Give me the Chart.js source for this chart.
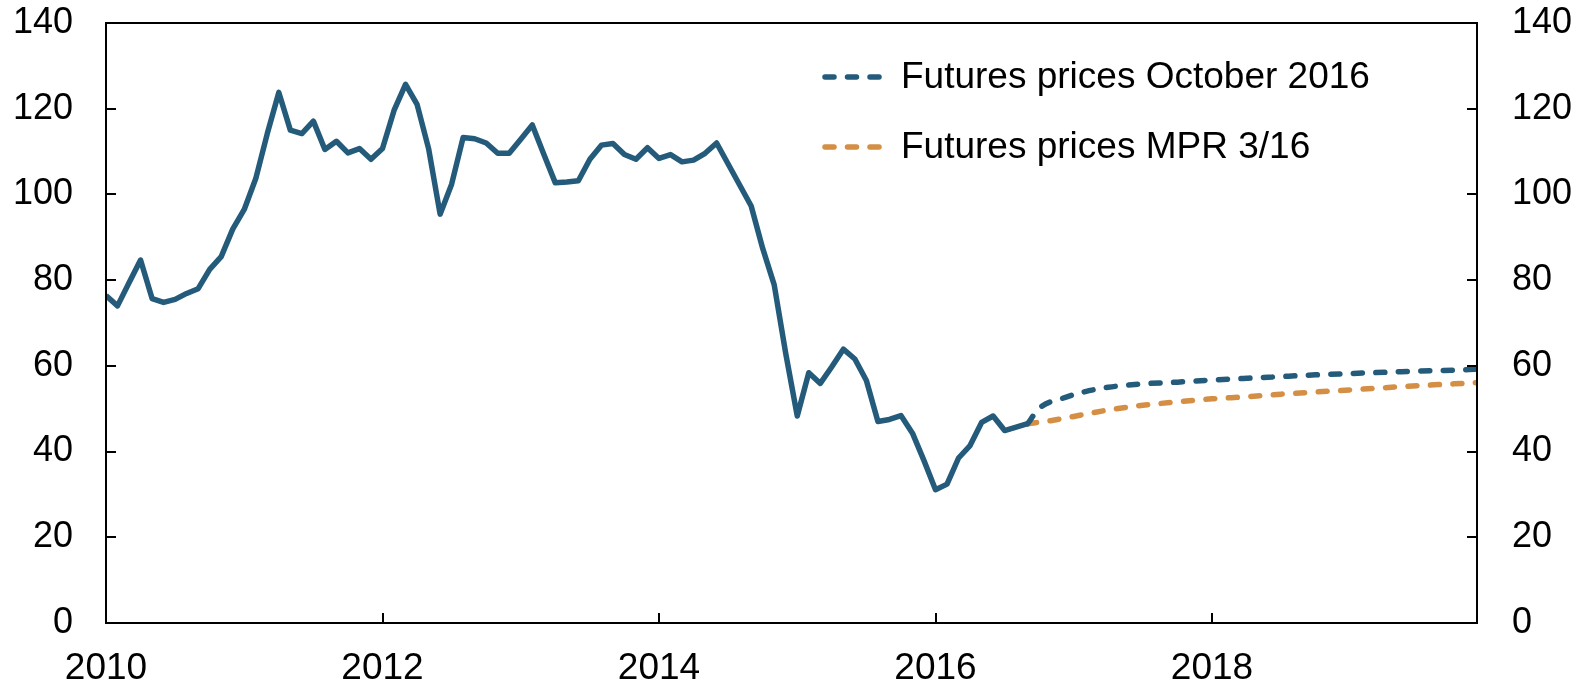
<!DOCTYPE html>
<html>
<head>
<meta charset="utf-8">
<script src="https://cdn.jsdelivr.net/npm/chart.js@4/dist/chart.umd.min.js"></script>
<style>
  html, body { margin: 0; padding: 0; background: #fff; }
  #wrap { width: 1582px; height: 685px; position: relative; }
</style>
</head>
<body>
<div id="wrap"><canvas id="oilChart"></canvas></div>
<script>
// Brent oil price, USD per barrel, monthly from Jan 2010 (month 0) to Sep 2016
const spotPrices = [
  76.4, 74.0, 79.4, 84.7, 75.7, 74.8, 75.5, 76.9, 78.0, 82.5, 85.5, 91.9,
  96.5, 103.7, 114.2, 123.8, 115.0, 114.2, 117.1, 110.5, 112.4, 109.7, 110.7, 108.2,
  110.7, 119.6, 125.7, 121.0, 110.7, 95.4, 102.4, 113.3, 113.0, 112.0, 109.6, 109.6,
  112.9, 116.2, 109.4, 102.7, 102.9, 103.2, 108.2, 111.5, 111.9, 109.3, 108.2, 110.9,
  108.4, 109.3, 107.6, 108.0, 109.6, 112.0, 107.1, 102.2, 97.3, 87.4, 78.9, 62.9,
  48.3, 58.4, 55.9, 59.8, 63.9, 61.6, 56.6, 47.0, 47.5, 48.4, 44.3, 37.9,
  31.1, 32.4, 38.5, 41.4, 46.8, 48.3, 44.9, 45.7, 46.5
];

// futures curves (month index counted from Jan 2010)
const octMonths = [80, 81, 83, 85, 87, 90, 93, 96, 99, 102, 105, 108, 111, 114, 117, 119];
const octValues = [46.5, 50.1, 52.4, 54.0, 55.0, 55.8, 56.2, 56.7, 57.1, 57.5, 57.9, 58.2, 58.5, 58.8, 59.0, 59.2];
const mprMonths = [80, 82, 84, 87, 90, 93, 96, 99, 102, 105, 108, 111, 114, 117, 119];
const mprValues = [46.5, 47.2, 48.2, 49.7, 50.8, 51.6, 52.3, 52.8, 53.4, 53.9, 54.4, 54.9, 55.4, 55.8, 56.1];

const yearTicks = [0, 24, 48, 72, 96];
const yearLabels = ['2010', '2012', '2014', '2016', '2018'];

const blue = '#245b7b';
const orange = '#d48f45';
const fontFamily = '"Liberation Sans", Arial, sans-serif';
const lineW = 5.5;
const dash = [9, 13.5];

const toPoints = (xs, ys) => ys.map((v, i) => ({ x: xs[i], y: v }));

// ticks pointing into the plot, box round the chart area, legend in the corner
const framePlugin = {
  id: 'frame',
  afterDraw(chart) {
    const ctx = chart.ctx;
    const a = chart.chartArea;
    const y = chart.scales.y;
    const x = chart.scales.x;
    ctx.save();
    ctx.strokeStyle = '#000';
    ctx.lineWidth = 2;
    ctx.beginPath();
    y.ticks.forEach(t => {
      const py = Math.round(y.getPixelForValue(t.value));
      ctx.moveTo(a.left, py); ctx.lineTo(a.left + 10, py);
      ctx.moveTo(a.right, py); ctx.lineTo(a.right - 10, py);
    });
    yearTicks.forEach(m => {
      const px = Math.round(x.getPixelForValue(m));
      ctx.moveTo(px, a.bottom); ctx.lineTo(px, a.bottom - 10);
    });
    ctx.rect(a.left, a.top, a.right - a.left, a.bottom - a.top);
    ctx.stroke();

    // legend
    const items = [chart.data.datasets[1], chart.data.datasets[2]];
    ctx.font = '37px ' + fontFamily;
    ctx.textBaseline = 'middle';
    ctx.fillStyle = '#000';
    items.forEach((ds, i) => {
      const ly = 77 + i * 70;
      ctx.strokeStyle = ds.borderColor;
      ctx.lineWidth = lineW;
      ctx.lineCap = 'round';
      ctx.setLineDash(dash);
      ctx.beginPath();
      ctx.moveTo(825, ly); ctx.lineTo(884, ly);
      ctx.stroke();
      ctx.setLineDash([]);
      ctx.fillText(ds.label, 901, ly + 1);
    });
    ctx.restore();
  }
};

const fitY = (w) => (scale) => {
  scale.width = w;
  scale.paddingTop = 0;
  scale.paddingBottom = 0;
};

const ctx = document.getElementById('oilChart').getContext('2d');
new Chart(ctx, {
  type: 'line',
  data: {
    datasets: [
      {
        label: 'Spot price',
        data: spotPrices.map((v, i) => ({ x: i, y: v })),
        borderColor: blue,
        borderWidth: lineW,
        pointRadius: 0,
        tension: 0,
        borderJoinStyle: 'round'
      },
      {
        label: 'Futures prices October 2016',
        data: toPoints(octMonths, octValues),
        borderColor: blue,
        borderWidth: lineW,
        borderDash: dash,
        borderCapStyle: 'round',
        pointRadius: 0,
        cubicInterpolationMode: 'monotone'
      },
      {
        label: 'Futures prices MPR 3/16',
        data: toPoints(mprMonths, mprValues),
        borderColor: orange,
        borderWidth: lineW,
        borderDash: dash,
        borderCapStyle: 'round',
        pointRadius: 0,
        cubicInterpolationMode: 'monotone'
      }
    ]
  },
  options: {
    responsive: true,
    maintainAspectRatio: false,
    animation: false,
    layout: { padding: { top: 23, left: 0, right: 0, bottom: 0 } },
    plugins: {
      legend: { display: false },
      tooltip: { enabled: false }
    },
    scales: {
      x: {
        type: 'linear',
        min: 0,
        max: 119,
        afterBuildTicks: (scale) => {
          scale.ticks = yearTicks.map(v => ({ value: v }));
        },
        afterFit: (scale) => { scale.height = 62; },
        grid: { display: false, drawTicks: false },
        border: { display: false },
        ticks: {
          color: '#000',
          font: { family: fontFamily, size: 37 },
          padding: 24,
          maxRotation: 0,
          autoSkip: false,
          callback: (v) => yearLabels[yearTicks.indexOf(v)]
        }
      },
      y: {
        position: 'left',
        min: 0,
        max: 140,
        afterFit: fitY(106),
        grid: { display: false, drawTicks: false },
        border: { display: false },
        ticks: {
          stepSize: 20,
          color: '#000',
          font: { family: fontFamily, size: 36 },
          padding: 33
        }
      },
      y2: {
        position: 'right',
        min: 0,
        max: 140,
        afterFit: fitY(105),
        grid: { display: false, drawTicks: false },
        border: { display: false },
        ticks: {
          stepSize: 20,
          color: '#000',
          font: { family: fontFamily, size: 36 },
          padding: 35
        }
      }
    }
  },
  plugins: [framePlugin]
});
</script>
</body>
</html>
